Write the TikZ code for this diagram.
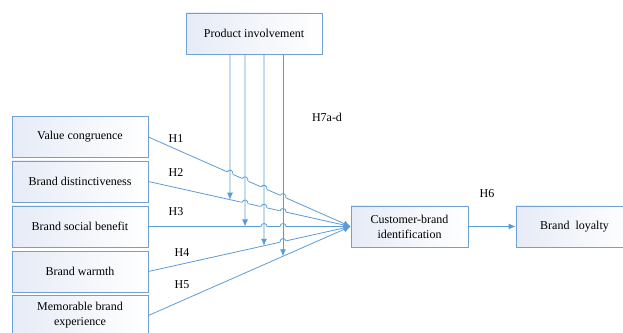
\documentclass[tikz,border=0pt]{standalone}
\usepackage{fontspec}
\setmainfont{Liberation Serif}
\usetikzlibrary{calc, arrows.meta}

\definecolor{boxline}{RGB}{112,160,214}
\definecolor{pathline}{RGB}{91,155,213}
\definecolor{boxfill}{RGB}{230,235,246}

\tikzset{
  construct/.style={draw=boxline, line width=0.8pt, left color=boxfill, right color=white,
    minimum width=136pt, minimum height=41pt, align=center,
    font=\fontsize{12}{15}\selectfont},
  hyp/.style={draw=pathline, line width=0.8pt, -{Latex[length=7pt,width=6pt]}},
  hyplabel/.style={font=\fontsize{12}{15}\selectfont}
}

\begin{document}
\begin{tikzpicture}[x=1pt,y=1pt]
\useasboundingbox (0,0) rectangle (623,332);
% constructs
\node[construct] (pi) at (254,298.5) {Product involvement};
\node[construct] (vc) at (80,195) {Value congruence};
\node[construct] (bd) at (80,150.5) {Brand distinctiveness};
\node[construct] (bs) at (80,105.5) {Brand social benefit};
\node[construct] (bw) at (80,60.5) {Brand warmth};
\node[construct] (me) at (80,16.5) {Memorable brand\\experience};
\node[construct, minimum width=117pt] (cbi) at (409.5,105.5) {Customer-brand\\identification};
\node[construct, minimum width=117pt] (bl) at (574.5,105.5) {Brand\ \ loyalty};
% moderator lines leave product involvement here
\foreach \i/\x in {1/230,2/245,3/264,4/283} {
  \coordinate (top\i) at (\x,278);
  \coordinate (bot\i) at (\x,0);
}
% direct paths
\foreach \s in {vc,bd,bs,bw,me}
  \draw[hyp] (\s.east) -- (cbi.west);
% jumps where a path crosses a moderator line
\foreach \s/\m in {vc/1,vc/2,vc/3,vc/4,bd/2,bd/3,bd/4,bs/3,bs/4,bw/4} {
  \coordinate (hc) at (intersection of \s.east--cbi.west and top\m--bot\m);
  \draw[white, line width=2.6pt] let \p1=($(cbi.west)-(\s.east)$), \n1={atan2(\y1,\x1)} in
    ($(hc)+(\n1:3.4pt)$) -- ($(hc)+(\n1+180:3.4pt)$);
  \draw[pathline, line width=0.8pt] let \p1=($(cbi.west)-(\s.east)$), \n1={atan2(\y1,\x1)} in
    ($(hc)+(\n1+180:3pt)$) arc[start angle=\n1+180, end angle=\n1, radius=3pt];
}
% moderating arrows
\foreach \m/\s in {1/bd,2/bs,3/bw,4/me}
  \draw[hyp] (top\m) -- (intersection of \s.east--cbi.west and top\m--bot\m);
\draw[hyp] (cbi) -- (bl);
% hypothesis labels
\node[hyplabel] (h1) at (176,193) {H1};
\node[hyplabel] (h2) at (176,159) {H2};
\node[hyplabel] (h3) at (176,120) {H3};
\node[hyplabel] (h4) at (182,79) {H4};
\node[hyplabel] (h5) at (182,47) {H5};
\node[hyplabel] (h6) at (487,138) {H6};
\node[hyplabel] (h7) at (327,215) {H7a-d};
\end{tikzpicture}
\end{document}
